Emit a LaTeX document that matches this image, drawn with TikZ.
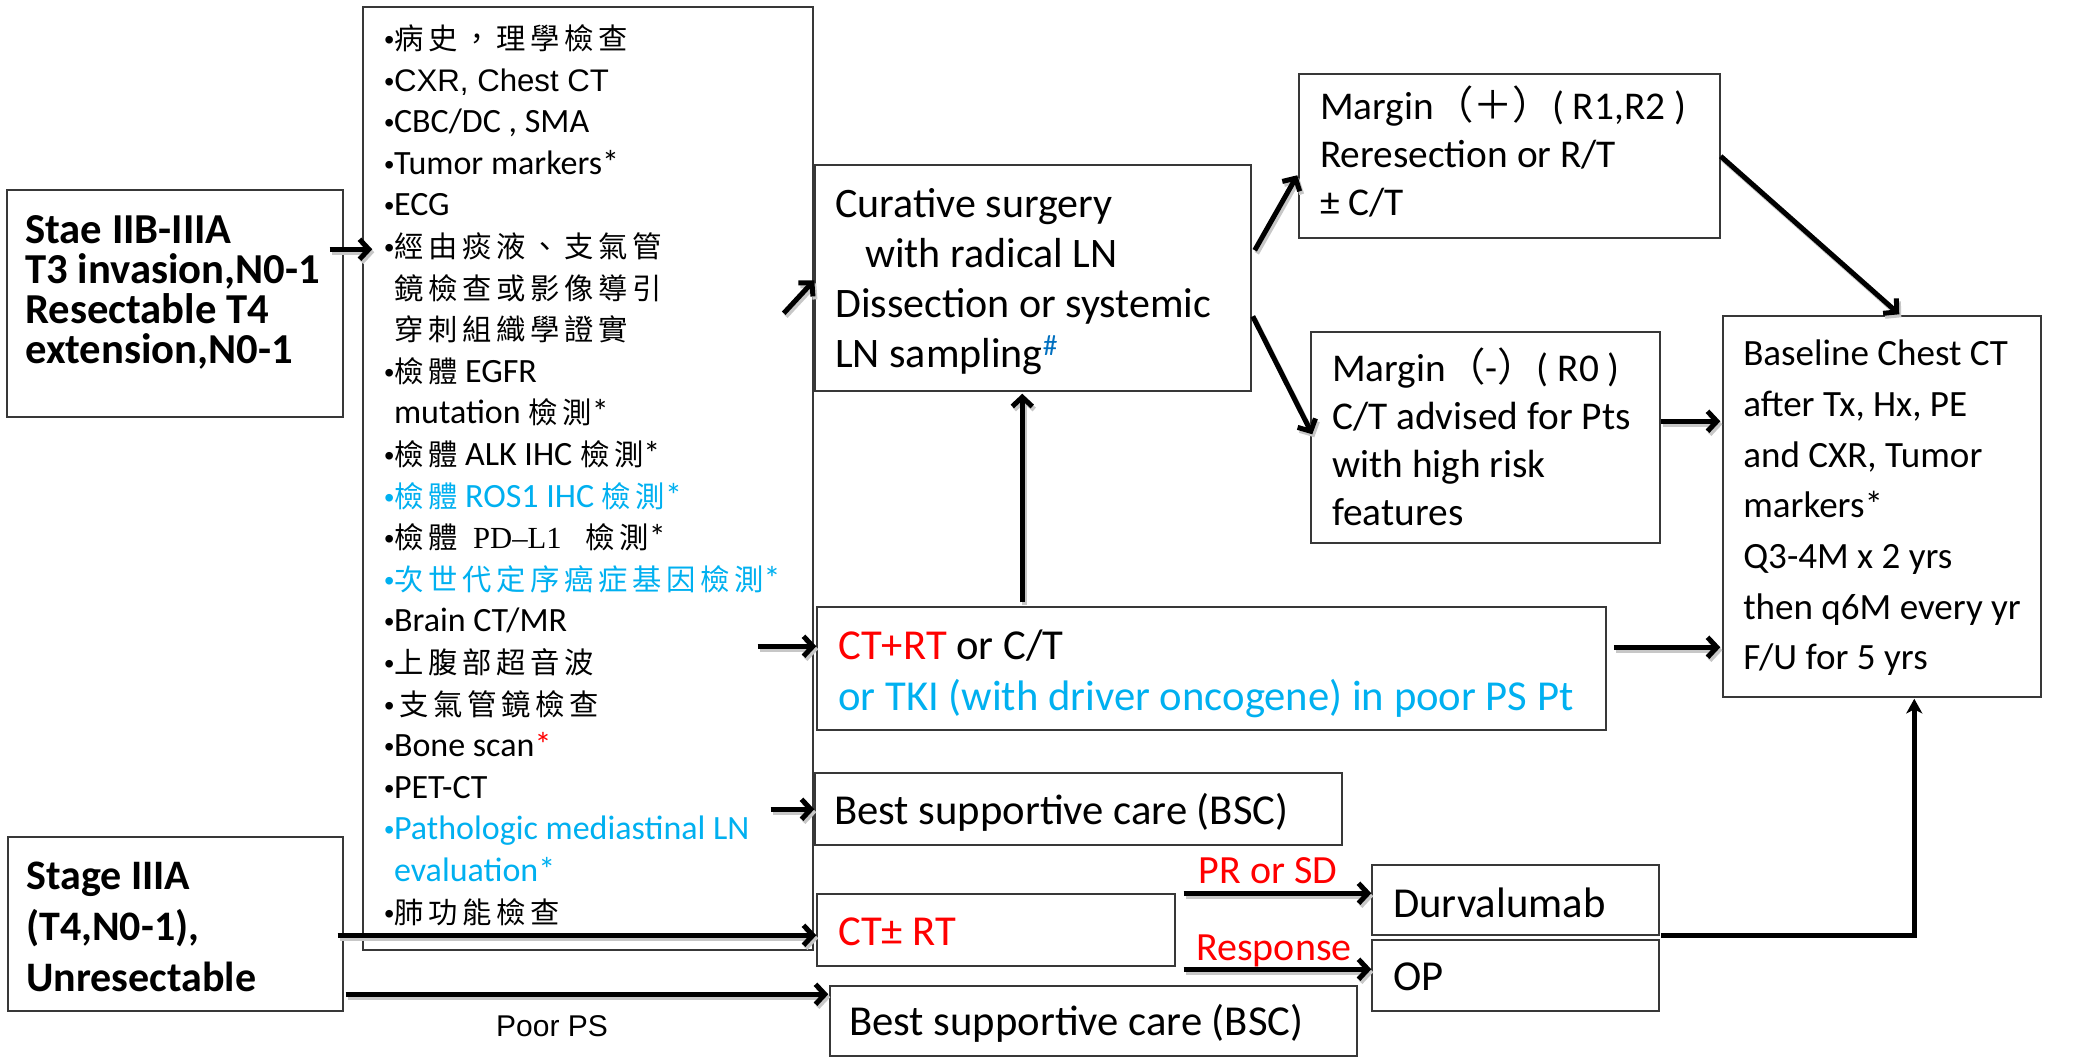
\documentclass[tikz,border=0pt]{standalone}
\usepackage{fontspec}
\setmainfont{Carlito}
\newfontfamily\cjkfont[LetterSpace=16]{Noto Sans CJK TC}
\newfontfamily\cjkplain{Noto Sans CJK TC}
\newfontfamily\arialfont{Liberation Sans}
\newfontfamily\serifnum{Liberation Serif}
\usetikzlibrary{arrows.meta,calc}

\definecolor{cyanb}{HTML}{00B0F0}
\definecolor{redt}{HTML}{FF0000}
\definecolor{hashb}{HTML}{0070C0}

% font size helper: size / baseline skip, fixed line pitch
\newcommand\setfs[2]{\fontsize{#1}{#2}\selectfont\lineskiplimit=-100pt\relax}
% Chinese text inside the work-up list
\newcommand\zh[1]{{\cjkfont\fontsize{22}{31.2}\selectfont #1}}
% list bullet
\newcommand\bul{{\arialfont\fontsize{21}{31.2}\selectfont •}}

\begin{document}
\begin{tikzpicture}[x=0.75pt,y=-0.75pt,
  box/.style={draw=black!78, line width=1.1pt, fill=white, inner sep=0pt},
  txt/.style={inner sep=0pt, align=left, anchor=west},
  lbl/.style={inner sep=0pt, anchor=base},
  flow/.style={line width=3.75pt, -{Straight Barb[length=7pt,width=15pt]},
    preaction={draw=black!22, line width=3.75pt, transform canvas={shift={(2,3)}}}},
  plainflow/.style={line width=3.75pt, -{Stealth[length=11pt,width=12pt,inset=3pt]}}
]
\fill[white] (0,0) rectangle (2080,1058);
\useasboundingbox (0,0) rectangle (2080,1058);

% ---------- boxes ----------
\node[box, minimum width=252pt,    minimum height=170.25pt] (stage1) at (175,303.5) {};
\node[box, minimum width=251.25pt, minimum height=130.5pt]  (stage3) at (175.5,924) {};
\node[box, minimum width=337.5pt,  minimum height=707.25pt] (list)   at (588,478.5) {};
\node[box, minimum width=327pt,    minimum height=169.5pt]  (cur)    at (1033,278) {};
\node[box, minimum width=315.75pt, minimum height=123pt]    (mplus)  at (1509.5,156) {};
\node[box, minimum width=261.75pt, minimum height=158.25pt] (mminus) at (1485.5,437.5) {};
\node[box, minimum width=238.5pt,  minimum height=285.75pt] (base)   at (1882,506.5) {};
\node[box, minimum width=591.75pt, minimum height=92.25pt]  (ctrt)   at (1211.5,668.5) {};
\node[box, minimum width=395.25pt, minimum height=54pt]     (bsc1)   at (1078.5,809) {};
\node[box, minimum width=268.5pt,  minimum height=54pt]     (ctpm)   at (996,930) {};
\node[box, minimum width=215.25pt, minimum height=52.5pt]   (durv)   at (1515.5,900) {};
\node[box, minimum width=215.25pt, minimum height=53.25pt]  (op)     at (1515.5,975.5) {};
\node[box, minimum width=395.25pt, minimum height=52.5pt]   (bsc2)   at (1093.5,1021) {};

% ---------- texts ----------
\node[txt, font={\bfseries\setfs{32}{30}}] (stage1-t) at (25,292)
  {Stae IIB-IIIA\\T3 invasion,N0-1\\Resectable T4\\extension,N0-1};
\node[txt, font={\bfseries\setfs{31.5}{38}}] (stage3-t) at (26,927)
  {Stage IIIA\\(T4,N0-1),\\Unresectable};

\node[txt, font={\setfs{25.5}{31.2}}] (list-t) at (384,475)
  {\bul\zh{病史，理學檢查}\\
   \bul{\arialfont\fontsize{23.4}{31.2}\selectfont CXR, Chest CT}\\
   \bul CBC/DC , SMA\\
   \bul Tumor markers*\\
   \bul ECG\\
   \bul\zh{經由痰液、支氣管}\\
   \hphantom{\bul}\zh{鏡檢查或影像導引}\\
   \hphantom{\bul}\zh{穿刺組織學證實}\\
   \bul\zh{檢體} EGFR\\
   \hphantom{\bul}mutation \zh{檢測}*\\
   \bul\zh{檢體} ALK IHC \zh{檢測}*\\
   {\color{cyanb}\bul\zh{檢體} ROS1 IHC \zh{檢測}*}\\
   \bul\zh{檢體}\hspace{6pt} {\serifnum\fontsize{23}{31.2}\selectfont PD–L1}\hspace{12pt} \zh{檢測}*\\
   {\color{cyanb}\bul\zh{次世代定序癌症基因檢測}*}\\
   \bul Brain CT/MR\\
   \bul\zh{上腹部超音波}\\
   \bul\,\zh{支氣管鏡檢查}\\
   \bul Bone scan{\color{redt}*}\\
   \bul PET-CT\\
   {\color{cyanb}\bul Pathologic mediastinal LN}\\
   {\color{cyanb}\hphantom{\bul}evaluation*}\\
   \bul\zh{肺功能檢查}};

\node[txt, font={\setfs{31.5}{37.5}}] (cur-t) at (835,282)
  {Curative surgery\\\hspace*{22.5pt}with radical LN\\Dissection or systemic\\LN sampling\textsuperscript{\color{hashb}\#}};
\node[txt, font={\setfs{29.5}{36}}] (mplus-t) at (1320,151)
  {Margin{\cjkplain （＋）}( R1,R2 )\\Reresection or R/T\\± C/T};
\node[txt, font={\setfs{29.5}{36}}] (mminus-t) at (1332,437)
  {Margin{\cjkplain （}-{\cjkplain ）}( R0 )\\C/T advised for Pts\\with high risk\\features};
\node[txt, font={\setfs{27.8}{38}}] (base-t) at (1743,508)
  {Baseline Chest CT\\after Tx, Hx, PE\\and CXR, Tumor\\markers*\\Q3-4M x 2 yrs\\then q6M every yr\\F/U for 5 yrs};
\node[txt, font={\setfs{32}{38}}] (ctrt-t) at (838,674)
  {{\color{redt}CT+RT} or C/T\\{\color{cyanb}or TKI (with driver oncogene) in poor PS Pt}};
\node[txt, font={\setfs{32}{40}}] (bsc1-t) at (834,812) {Best supportive care (BSC)};
\node[txt, font={\setfs{32}{40}}, text=redt] (ctpm-t) at (838,932) {CT± RT};
\node[txt, font={\setfs{32}{40}}] (durv-t) at (1393,903) {Durvalumab};
\node[txt, font={\setfs{32}{40}}] (op-t) at (1393,977) {OP};
\node[txt, font={\setfs{32}{40}}] (bsc2-t) at (849,1023) {Best supportive care (BSC)};

% ---------- arrow labels ----------
\node[lbl, font={\setfs{30}{36}}, text=redt] (prsd) at (1268,883) {PR or SD};
\node[lbl, font={\setfs{30}{36}}, text=redt] (resp) at (1274,960) {Response};
\node[lbl, font={\arialfont\setfs{22.5}{27}}] (poorps) at (552,1036) {Poor PS};

% ---------- connectors ----------
\draw[flow] ($(stage1.north east)+(-14,60)$) -- ($(list.north west)+(10,243)$);
\draw[flow] ($(list.north east)+(-30,307)$) -- ($(cur.north west)+(0,116)$);
\draw[flow] ($(cur.north east)+(3,86)$) -- ($(mplus.north west)+(-1,102)$);
\draw[flow] ($(cur.north east)+(1,152)$) -- ($(mminus.north west)+(2,103)$);
\draw[flow] ($(mminus.north east)+(0,90)$) -- ($(base.north west)+(-2,106)$);
\draw[flow] ($(mplus.north east)+(0,83)$) -- ($(base.north west)+(177,-1)$);
\draw[flow] ($(ctrt.north west)+(206,-4)$) -- ($(cur.south west)+(208,2)$);
\draw[flow] ($(list.north east)+(-56,640)$) -- ($(ctrt.north west)+(0,40)$);
\draw[flow] ($(ctrt.north east)+(7,41)$) -- ($(base.north west)+(-2,332)$);
\draw[flow] ($(list.north east)+(-43,803)$) -- ($(bsc1.north west)+(0,37)$);
\draw[flow] ($(stage3.north east)+(-6,99)$) -- ($(ctpm.north west)+(0,42)$);
\draw[flow] ($(stage3.north east)+(2,158)$) -- ($(bsc2.north west)+(-1,9)$);
\draw[flow] ($(ctpm.north east)+(8,0)$) -- ($(durv.north west)+(0,29)$);
\draw[flow] ($(ctpm.north east)+(8,76)$) -- ($(op.north west)+(0,30)$);
\draw[plainflow] ($(durv.south east)+(1,0)$) -| ($(base.south west)+(192,1)$);
\end{tikzpicture}
\end{document}
